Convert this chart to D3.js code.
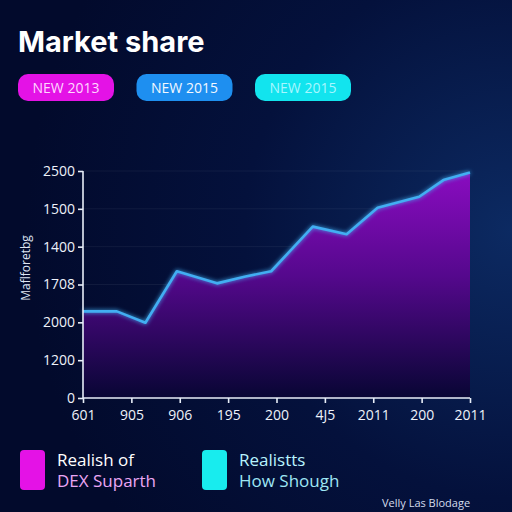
<!DOCTYPE html>
<html>
<head>
<meta charset="utf-8">
<script src="https://cdn.jsdelivr.net/npm/d3@7"></script>
<style>
    body { margin: 0; background: #020a2e; }
    svg { display: block; }
</style>
</head>
<body>
<div id="chart"></div>
<script>
// data
var xPos = [0, 0.7, 1.29, 1.94, 2.77, 3.36, 3.89, 4.75, 5.45, 6.09, 6.95, 7.45, 8.0];
var values = [2.29, 2.29, 1.99, 3.35, 3.03, 3.21, 3.35, 4.53, 4.33, 5.03, 5.32, 5.76, 5.96];
var xTickLabels = ["601", "905", "906", "195", "200", "4J5", "2011", "200", "2011"];
var yTickLabels = ["0", "1200", "2000", "1708", "1400", "1500", "2500"];
var pillLabels = ["NEW 2013", "NEW 2015", "NEW 2015"];
var pillColors = ["#e412e6", "#1e8ff0", "#12e4ee"];
var pillText = ["#ffd8ff", "#f2f8ff", "#a8f6ff"];
var legendTop = ["Realish of", "Realistts"];
var legendBottom = ["DEX Suparth", "How Shough"];

var svgWidth = 512;
var svgHeight = 512;
var margin = { top: 171, bottom: 114, left: 83, right: 42 };
var width = svgWidth - margin.left - margin.right;
var height = svgHeight - margin.top - margin.bottom;

var svg = d3.select("#chart")
    .append("svg")
    .attr("width", svgWidth)
    .attr("height", svgHeight);

var defs = svg.append("defs");

// background
var bg = defs.append("radialGradient")
    .attr("id", "bg")
    .attr("cx", "100%").attr("cy", "45%").attr("r", "95%");
bg.append("stop").attr("offset", "0%").attr("stop-color", "#0c2a62");
bg.append("stop").attr("offset", "55%").attr("stop-color", "#04113c");
bg.append("stop").attr("offset", "100%").attr("stop-color", "#020a2c");

var areaGrad = defs.append("linearGradient")
    .attr("id", "areaGrad")
    .attr("x1", 0).attr("y1", 0).attr("x2", 0).attr("y2", 1);
areaGrad.append("stop").attr("offset", "0%").attr("stop-color", "#8a0cc0");
areaGrad.append("stop").attr("offset", "45%").attr("stop-color", "#56088e");
areaGrad.append("stop").attr("offset", "100%").attr("stop-color", "#080634");

var glow = defs.append("filter").attr("id", "glow")
    .attr("x", "-20%").attr("y", "-20%").attr("width", "140%").attr("height", "140%");
glow.append("feGaussianBlur").attr("stdDeviation", 2).attr("result", "b");
var merge = glow.append("feMerge");
merge.append("feMergeNode").attr("in", "b");
merge.append("feMergeNode").attr("in", "SourceGraphic");

svg.append("rect")
    .attr("width", svgWidth)
    .attr("height", svgHeight)
    .attr("fill", "url(#bg)");

// title
svg.append("text")
    .attr("x", 18)
    .attr("y", 52)
    .attr("fill", "#ffffff")
    .attr("font-family", "Inter, 'Open Sans', sans-serif")
    .attr("font-weight", "bold")
    .attr("font-size", "29px")
    .text("Market share");

// pills
var pills = svg.append("g").selectAll("g")
    .data(pillLabels)
    .enter()
    .append("g")
    .attr("transform", (d, i) => `translate(${18 + i * 118.5}, 74)`);

pills.append("rect")
    .attr("width", 96)
    .attr("height", 27)
    .attr("rx", 10)
    .attr("fill", (d, i) => pillColors[i]);

pills.append("text")
    .attr("x", 48)
    .attr("y", 18.5)
    .attr("text-anchor", "middle")
    .attr("fill", (d, i) => pillText[i])
    .attr("font-family", "'Open Sans', sans-serif")
    .attr("font-size", "14px")
    .text(d => d);

// chart
var chartGroup = svg.append("g")
    .attr("transform", `translate(${margin.left}, ${margin.top})`);

var xScale = d3.scaleLinear()
    .domain([0, 8])
    .range([0, width]);

var yScale = d3.scaleLinear()
    .domain([0, 6])
    .range([height, 0]);

// gridlines
chartGroup.append("g")
    .selectAll("line")
    .data(d3.range(1, 7))
    .enter()
    .append("line")
    .attr("x1", 0)
    .attr("x2", width)
    .attr("y1", d => yScale(d))
    .attr("y2", d => yScale(d))
    .attr("stroke", "#ffffff")
    .attr("stroke-opacity", 0.06);

var area = d3.area()
    .x((d, i) => xScale(xPos[i]))
    .y0(height)
    .y1(d => yScale(d));

var line = d3.line()
    .x((d, i) => xScale(xPos[i]))
    .y(d => yScale(d));

chartGroup.append("path")
    .datum(values)
    .attr("d", area)
    .attr("fill", "url(#areaGrad)");

chartGroup.append("path")
    .datum(values)
    .attr("d", line)
    .attr("fill", "none")
    .attr("stroke", "#42aef2")
    .attr("stroke-width", 2.6)
    .attr("stroke-linejoin", "round")
    .attr("filter", "url(#glow)");

// axes
var bottomAxis = d3.axisBottom(xScale)
    .tickValues(d3.range(0, 9))
    .tickSize(5)
    .tickFormat((d, i) => xTickLabels[i]);

var leftAxis = d3.axisLeft(yScale)
    .tickValues(d3.range(0, 7))
    .tickSize(5)
    .tickFormat((d, i) => yTickLabels[i]);

var xAxis = chartGroup.append("g")
    .attr("transform", `translate(0, ${height})`)
    .call(bottomAxis);

var yAxis = chartGroup.append("g")
    .call(leftAxis);

[xAxis, yAxis].forEach(function(ax) {
    ax.selectAll("path, line")
        .attr("stroke", "#e8eef8")
        .attr("stroke-width", 1.6);
    ax.selectAll("text")
        .attr("fill", "#eef2fa")
        .attr("font-family", "'Open Sans', sans-serif")
        .attr("font-size", "14px");
});
xAxis.select(".domain").attr("d", `M0,0H${width}`);
xAxis.selectAll("text").attr("y", 12);
yAxis.select(".domain").attr("d", `M0,0V${height}`);
yAxis.selectAll("text").attr("x", -8);

// y axis title
svg.append("text")
    .attr("transform", "translate(30, 268) rotate(-90)")
    .attr("text-anchor", "middle")
    .attr("fill", "#dfe6f4")
    .attr("font-family", "'Open Sans', sans-serif")
    .attr("font-size", "12px")
    .text("Maflforetbg");

// legend
var legend = svg.append("g").selectAll("g")
    .data(legendTop)
    .enter()
    .append("g")
    .attr("transform", (d, i) => `translate(${20 + i * 182}, 450)`);

legend.append("rect")
    .attr("width", 25)
    .attr("height", 40)
    .attr("rx", 4)
    .attr("fill", (d, i) => i === 0 ? "#e412e6" : "#18ecee");

legend.append("text")
    .attr("x", 37)
    .attr("y", 16)
    .attr("fill", (d, i) => i === 0 ? "#ffffff" : "#b8f4ff")
    .attr("font-family", "'Open Sans', sans-serif")
    .attr("font-size", "17px")
    .text(d => d);

legend.append("text")
    .attr("x", 37)
    .attr("y", 37)
    .attr("fill", (d, i) => i === 0 ? "#eaa6f4" : "#9ee6f4")
    .attr("font-family", "'Open Sans', sans-serif")
    .attr("font-size", "17px")
    .text((d, i) => legendBottom[i]);

// footer
svg.append("text")
    .attr("x", 382)
    .attr("y", 507)
    .attr("fill", "#d4dcec")
    .attr("font-family", "'Open Sans', sans-serif")
    .attr("font-size", "11px")
    .text("Velly Las Blodage");
</script>
</body>
</html>
